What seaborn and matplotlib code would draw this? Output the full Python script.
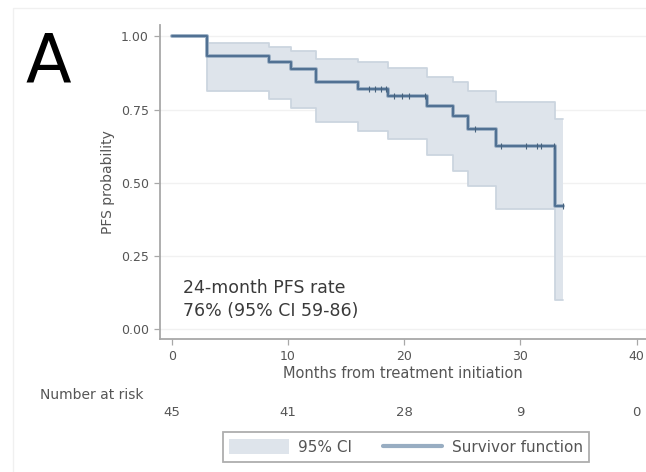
import numpy as np
import pandas as pd
import matplotlib
matplotlib.use("Agg")
import matplotlib.pyplot as plt
import matplotlib.patheffects as pe
from matplotlib.patches import Patch, Rectangle
from matplotlib.lines import Line2D
import matplotlib.transforms as mtransforms
import seaborn as sns

# Kaplan-Meier estimate of progression-free survival (step values after each time)
km_time = [0.0, 3.0, 8.4, 10.3, 12.4, 16.0, 18.6, 22.0, 24.2, 25.5, 27.9, 33.0, 33.7]
km_surv = [1.0, 0.933, 0.911, 0.889, 0.844, 0.822, 0.795, 0.762, 0.727, 0.684, 0.626, 0.420, 0.420]
ci_upper = [1.0, 0.979, 0.965, 0.951, 0.924, 0.911, 0.893, 0.862, 0.844, 0.815, 0.775, 0.718, 0.718]
ci_lower = [1.0, 0.812, 0.787, 0.755, 0.707, 0.678, 0.649, 0.594, 0.540, 0.489, 0.410, 0.099, 0.099]

# Censored observations (time, survival level)
cens_time = [17.0, 17.5, 18.0, 18.4, 19.1, 19.8, 20.4, 21.8, 26.1, 28.3, 30.5, 31.4, 31.8, 32.9, 33.7]
cens_surv = [0.822, 0.822, 0.822, 0.822, 0.795, 0.795, 0.795, 0.795, 0.684, 0.626, 0.626, 0.626, 0.626, 0.626, 0.420]

# Risk table
risk_months = [0, 10, 20, 30, 40]
risk_counts = [45, 41, 28, 9, 0]

y_ticks = [0.0, 0.25, 0.5, 0.75, 1.0]
y_ticklabels = ["0.00", "0.25", "0.50", "0.75", "1.00"]

km = pd.DataFrame({"month": km_time, "surv": km_surv,
                   "upper": ci_upper, "lower": ci_lower})
cens = pd.DataFrame({"month": cens_time, "surv": cens_surv})

sns.set_theme(style="white")
plt.rcParams["font.family"] = ["DejaVu Sans"]

fig = plt.figure(figsize=(6.46, 4.72), dpi=100)
W, H = 646, 472
ax = fig.add_axes([160 / W, (H - 339) / H, (646 - 160) / W, (339 - 25) / H])

ci_fill = "#dee4eb"
ci_edge = "#ccd5df"
line_col = "#4f7092"
grey_txt = "#555555"

# Confidence band
ax.fill_between(km["month"], km["lower"], km["upper"], step="post",
                color=ci_fill, linewidth=0, zorder=1)
for col in ["lower", "upper"]:
    ax.step(km["month"], km[col], where="post", color=ci_edge, lw=1.3, zorder=2)

# Survivor function
sns.lineplot(data=km, x="month", y="surv", drawstyle="steps-post", ax=ax,
             color=line_col, lw=1.4, zorder=3,
             path_effects=[pe.Stroke(linewidth=2.8, foreground="#9cb0c4"), pe.Normal()])
sns.scatterplot(data=cens, x="month", y="surv", ax=ax, marker="|", s=18,
                color="#46617c", linewidth=0.8, zorder=4)

ax.set_xlim(-1.0, 40.8)
ax.set_ylim(-0.034, 1.039)
ax.set_xticks(risk_months)
ax.set_xticklabels([str(m) for m in risk_months])
ax.set_yticks(y_ticks)
ax.set_yticklabels(y_ticklabels)
ax.grid(axis="y", color="#f1f1f1", lw=1.0)
ax.set_axisbelow(True)

for side in ["top", "right"]:
    ax.spines[side].set_visible(False)
for side in ["left", "bottom"]:
    ax.spines[side].set_color("#a8a8a8")
    ax.spines[side].set_linewidth(1.3)
ax.tick_params(axis="both", which="major", direction="out", length=4, width=0.9,
               color="#a8a8a8", labelcolor=grey_txt, labelsize=9, pad=4,
               bottom=True, left=True)

ax.set_xlabel("Months from treatment initiation", fontsize=10.5, color=grey_txt, labelpad=2)
ax.set_ylabel("PFS probability", fontsize=10, color=grey_txt, labelpad=4)

# Summary text inside the plot
ax.text(1.0, 0.141, "24-month PFS rate", fontsize=12.5, color="#3a3a3a", va="center")
ax.text(1.0, 0.060, "76% (95% CI 59-86)", fontsize=12.5, color="#3a3a3a", va="center")

# Risk table below the axis
trans = mtransforms.blended_transform_factory(ax.transData, fig.transFigure)
fig.text(40 / W, 1 - 395 / H, "Number at risk", fontsize=10, color=grey_txt,
         ha="left", va="center")
for m, n in zip(risk_months, risk_counts):
    ax.text(m, 1 - 413 / H, str(n), transform=trans, fontsize=9.5,
            color=grey_txt, ha="center", va="center", clip_on=False)

# Panel letter
fig.text(25 / W, 1 - 82 / H, "A", fontsize=48, color="black", ha="left", va="baseline")

# Faint graph-region outline
fig.patches.append(Rectangle((13 / W, -0.1), 1.2, 1.1 - 8 / H,
                             transform=fig.transFigure, fill=False,
                             edgecolor="#f0f0f0", lw=1.0, zorder=0))

handles = [Patch(facecolor=ci_fill, edgecolor="none"),
           Line2D([], [], color="#98adc2", lw=3)]
leg = fig.legend(handles, ["95% CI", "Survivor function"], loc="center",
                 bbox_to_anchor=(406 / W, 1 - 447 / H), ncol=2, fontsize=11,
                 frameon=True, fancybox=False, handlelength=3.9, handleheight=1.1,
                 columnspacing=2.0, handletextpad=0.6, borderpad=0.45,
                 borderaxespad=0)
leg.get_frame().set_edgecolor("#9a9a9a")
leg.get_frame().set_linewidth(1.3)
for t in leg.get_texts():
    t.set_color(grey_txt)

fig.savefig("out.png", dpi=100, facecolor="white")
